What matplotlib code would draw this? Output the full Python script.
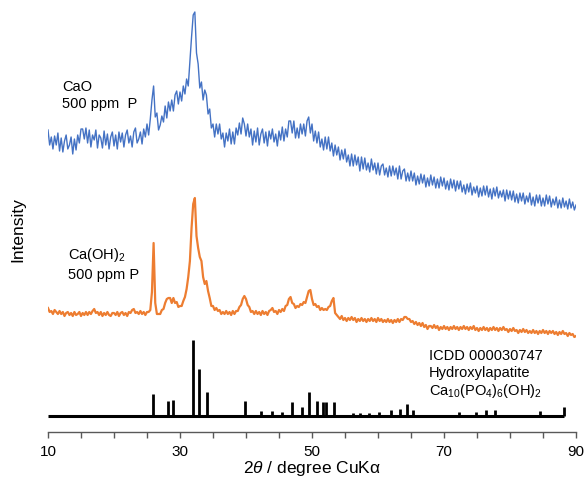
import numpy as np
import matplotlib
matplotlib.use("Agg")
import matplotlib.pyplot as plt
from matplotlib.ticker import FixedLocator, MultipleLocator

plt.rcParams['font.family'] = ['Liberation Sans', 'DejaVu Sans']
plt.rcParams['mathtext.fontset'] = 'custom'
plt.rcParams['mathtext.rm'] = 'Liberation Sans'
plt.rcParams['mathtext.it'] = 'Liberation Sans:italic'

# ---- data (2theta scan, 0.25 deg step) ----
two_theta = np.linspace(10, 90, 321)

cao_500ppm_p = [
    302, 287, 295, 283, 296, 287, 299, 281,
    294, 280, 291, 297, 283, 287, 295, 278,
    293, 282, 297, 289, 303, 303, 293, 304,
    289, 302, 285, 297, 292, 302, 284, 297,
    294, 284, 301, 287, 298, 283, 295, 300,
    286, 297, 283, 300, 290, 299, 285, 297,
    302, 289, 296, 285, 300, 304, 289, 293,
    300, 288, 303, 295, 308, 297, 313, 332,
    346, 315, 319, 302, 307, 316, 310, 326,
    314, 330, 321, 332, 321, 337, 341, 328,
    340, 331, 346, 338, 353, 346, 371, 395,
    417, 420, 379, 368, 344, 350, 332, 342,
    337, 318, 323, 304, 308, 295, 308, 298,
    308, 293, 299, 285, 299, 291, 303, 288,
    300, 288, 304, 297, 309, 298, 314, 308,
    296, 308, 295, 303, 287, 301, 290, 304,
    287, 298, 303, 289, 300, 286, 301, 293,
    303, 290, 298, 286, 301, 292, 305, 291,
    303, 295, 311, 311, 299, 311, 294, 304,
    294, 308, 298, 308, 296, 311, 315, 299,
    308, 291, 301, 289, 300, 285, 293, 282,
    295, 283, 295, 281, 289, 276, 287, 277,
    285, 272, 282, 273, 283, 270, 277, 266,
    278, 266, 277, 267, 275, 261, 275, 263,
    274, 262, 269, 260, 273, 262, 269, 258,
    269, 257, 266, 268, 257, 264, 255, 266,
    256, 266, 257, 264, 253, 266, 253, 261,
    263, 251, 259, 251, 261, 251, 259, 247,
    256, 248, 258, 249, 257, 245, 254, 246,
    257, 247, 255, 244, 253, 244, 255, 246,
    254, 243, 251, 242, 253, 244, 252, 241,
    251, 243, 251, 240, 247, 238, 248, 240,
    249, 237, 245, 239, 246, 235, 244, 236,
    246, 237, 246, 235, 243, 233, 244, 236,
    245, 234, 241, 235, 242, 231, 242, 233,
    241, 232, 241, 230, 238, 229, 239, 231,
    239, 228, 236, 230, 239, 227, 235, 226,
    237, 229, 237, 226, 234, 226, 237, 228,
    236, 225, 233, 227, 235, 224, 232, 224,
    234, 225, 231, 223, 233, 224, 230, 222,
    227,
]

caoh2_500ppm_p = [
    124, 120, 121, 118, 122, 120, 118, 121,
    118, 120, 116, 119, 120, 117, 119, 116,
    120, 117, 118, 120, 116, 119, 117, 120,
    117, 120, 118, 121, 123, 119, 120, 117,
    120, 116, 119, 117, 120, 117, 116, 119,
    119, 117, 120, 116, 119, 120, 117, 119,
    116, 120, 119, 122, 123, 119, 120, 118,
    121, 118, 120, 117, 120, 120, 122, 140,
    189, 129, 118, 118, 118, 122, 123, 129,
    133, 134, 134, 129, 134, 129, 130, 125,
    126, 126, 131, 135, 143, 155, 171, 204,
    228, 234, 196, 184, 175, 171, 155, 148,
    151, 141, 134, 126, 126, 122, 124, 121,
    122, 118, 120, 118, 121, 118, 120, 117,
    121, 118, 121, 121, 125, 127, 133, 136,
    133, 127, 125, 120, 121, 118, 121, 118,
    120, 117, 121, 118, 120, 117, 121, 122,
    124, 120, 121, 118, 122, 120, 123, 121,
    126, 127, 133, 135, 129, 128, 124, 126,
    125, 128, 127, 130, 129, 135, 141, 142,
    133, 127, 128, 125, 126, 122, 124, 122,
    123, 122, 125, 126, 131, 134, 119, 117,
    115, 113, 116, 112, 114, 111, 114, 112,
    115, 112, 114, 110, 113, 111, 114, 111,
    113, 110, 113, 111, 114, 111, 113, 110,
    114, 111, 113, 110, 112, 110, 113, 110,
    112, 109, 112, 110, 113, 110, 113, 112,
    115, 115, 113, 113, 110, 111, 108, 110,
    107, 109, 106, 109, 105, 107, 103, 106,
    106, 104, 107, 104, 106, 102, 105, 103,
    106, 103, 105, 102, 105, 103, 106, 103,
    105, 102, 105, 103, 106, 103, 105, 102,
    105, 103, 106, 102, 104, 101, 104, 102,
    105, 102, 104, 101, 104, 102, 105, 102,
    104, 101, 104, 102, 105, 102, 103, 100,
    103, 101, 104, 101, 102, 99, 102, 100,
    103, 100, 102, 99, 101, 99, 102, 99,
    101, 98, 101, 99, 102, 99, 101, 98,
    101, 99, 101, 98, 100, 97, 100, 98,
    101, 98, 99, 96, 99, 97, 98, 95,
    96,
]

# ICDD 000030747 hydroxylapatite reference sticks
hap_positions = [25.9, 28.2, 29.0, 32.0, 32.9, 34.1, 39.8, 42.3, 44.0, 45.5,
                 46.9, 48.5, 49.6, 50.8, 51.7, 52.1, 53.4, 56.2, 57.2, 58.6,
                 60.2, 62.0, 63.3, 64.4, 65.3, 72.3, 74.9, 76.4, 77.8, 84.5, 88.2]
hap_heights = [22, 15, 16, 76, 47, 24, 15, 5, 5, 4,
               14, 9, 24, 15, 14, 14, 14, 3, 3, 3,
               4, 6, 7.5, 12, 6, 4, 4, 6, 6, 5, 9]
stick_base = 16

x_ticks = [10, 30, 50, 70, 90]

# ---- figure ----
fig = plt.figure(figsize=(5.88, 4.8), dpi=100)
ax = fig.add_axes([48 / 588, 0.1, 528 / 588, 0.9])

ax.plot(two_theta, cao_500ppm_p, color='#4472C4', lw=1.0)
ax.plot(two_theta, caoh2_500ppm_p, color='#ED7D31', lw=1.6)

ax.hlines(stick_base, 10, hap_positions[-1], color='black', lw=2.2)
ax.vlines(hap_positions, stick_base, [stick_base + h for h in hap_heights],
          color='black', lw=2.0)

ax.set_xlim(10, 90)
ax.set_ylim(0, 432)
for s in ['left', 'right', 'top']:
    ax.spines[s].set_visible(False)
ax.spines['bottom'].set_color('#595959')
ax.spines['bottom'].set_linewidth(1.0)
ax.set_yticks([])
ax.xaxis.set_major_locator(FixedLocator(x_ticks))
ax.xaxis.set_minor_locator(MultipleLocator(5))
ax.tick_params(axis='x', which='both', direction='out', length=4, width=1.0,
               color='#595959', labelsize=11, pad=5)
ax.set_xlabel(r'2$\it{\theta}$ / degree CuKα', fontsize=12.5, labelpad=0)
fig.text(18 / 588, 1 - 230 / 480, 'Intensity', rotation=90, fontsize=12.5,
         ha='center', va='center')

fs = 10.5
ax.text(12.1, 341, 'CaO', fontsize=fs, va='baseline')
ax.text(12.1, 324, '500 ppm  P', fontsize=fs, va='baseline')
ax.text(13.1, 173, r'Ca(OH)$_2$', fontsize=fs, va='baseline')
ax.text(13.1, 153, '500 ppm P', fontsize=fs, va='baseline')
ax.text(67.7, 72.5, 'ICDD 000030747', fontsize=fs, va='baseline')
ax.text(67.7, 55, 'Hydroxylapatite', fontsize=fs, va='baseline')
ax.text(67.7, 37.5, r'Ca$_{10}$(PO$_4$)$_6$(OH)$_2$', fontsize=fs, va='baseline')

fig.savefig('out.png', dpi=100)
